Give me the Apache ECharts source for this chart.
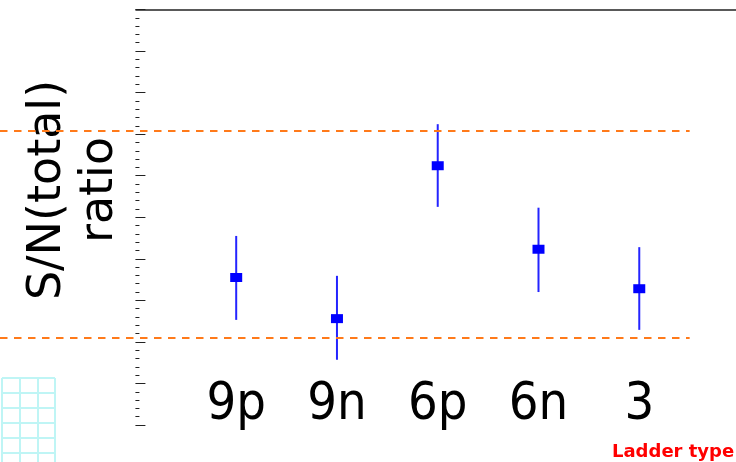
<!DOCTYPE html>
<html><head><meta charset="utf-8">
<script src="https://cdn.jsdelivr.net/npm/echarts@6/dist/echarts.min.js"></script>
<style>html,body{margin:0;padding:0;background:#fff}#c{width:736px;height:462px}</style>
</head><body><div id="c"></div>
<script>
// ---- data ----
const categories = ['9p', '9n', '6p', '6n', '3'];
const positions = [1, 2, 3, 4, 5];
const ratios = [0.355, 0.256, 0.624, 0.423, 0.328];
const errUp = [0.100, 0.103, 0.100, 0.100, 0.100];
const errDown = [0.102, 0.099, 0.099, 0.103, 0.099];
const refLines = [0.708, 0.210];
const refLineEnd = 5.5;
const xMin = -1.344, xMax = 5.96;
const yMin = 0, yMax = 1, yStep = 0.1;
const yTitle = 'S/N(total)\nratio';

const chart = echarts.init(document.getElementById('c'), null, {renderer: 'canvas'});

const errData = positions.map((x, i) => [x, ratios[i] - errDown[i], ratios[i] + errUp[i]]);
const ptData = positions.map((x, i) => [x, ratios[i]]);

const refMarks = refLines.map(v => [{coord: [xMin, v]}, {coord: [refLineEnd, v]}]);
refMarks.push([{coord: [0, yMax], lineStyle: {type: 'solid', color: '#222', width: 1.5}}, {coord: [xMax, yMax]}]);

chart.setOption({
  animation: false,
  backgroundColor: '#ffffff',
  title: {
    text: 'Ladder type', left: 612, top: 443, padding: 0,
    textStyle: {color: '#ff0000', fontSize: 18, fontWeight: 'bold', fontFamily: 'DejaVu Sans'}
  },
  graphic: [{
    type: 'text', x: 74, y: 190, rotation: Math.PI / 2, silent: true,
    style: {
      text: yTitle, fill: '#000', font: '46px "DejaVu Sans"',
      lineHeight: 52, align: 'center', verticalAlign: 'middle'
    }
  }],
  grid: [
    {left: 0, right: 0, top: 9.5, bottom: 37, outerBoundsMode: 'none', containLabel: false},
    {left: 2, top: 378, width: 53, height: 90, outerBoundsMode: 'none', containLabel: false}
  ],
  xAxis: [
    {
      type: 'value', gridIndex: 0, min: xMin, max: xMax,
      axisLine: {show: false}, axisTick: {show: false}, splitLine: {show: false},
      axisLabel: {
        customValues: positions,
        formatter: v => categories[positions.indexOf(v)],
        margin: -46, fontSize: 52, color: '#000',
        fontFamily: "'Liberation Sans Narrow', 'DejaVu Sans Condensed', sans-serif"
      }
    },
    {
      type: 'value', gridIndex: 1, min: 0, max: 3, interval: 1,
      axisLine: {show: false}, axisTick: {show: false}, axisLabel: {show: false},
      splitLine: {show: true, lineStyle: {color: '#bff5f5', width: 2}}
    }
  ],
  yAxis: [
    {
      type: 'value', gridIndex: 0, min: yMin, max: yMax, interval: yStep,
      axisLine: {show: false, onZero: true},
      axisTick: {show: true, inside: true, length: 10, lineStyle: {color: '#222', width: 1}},
      minorTick: {show: true, splitNumber: 5, length: 4, lineStyle: {color: '#222', width: 1}},
      axisLabel: {show: false}, splitLine: {show: false}
    },
    {
      type: 'value', gridIndex: 1, min: 0, max: 6, interval: 1,
      axisLine: {show: false}, axisTick: {show: false}, axisLabel: {show: false},
      splitLine: {show: true, lineStyle: {color: '#bff5f5', width: 2}}
    }
  ],
  series: [
    {
      type: 'custom', xAxisIndex: 0, yAxisIndex: 0, data: errData, silent: true, z: 2,
      encode: {x: 0, y: [1, 2]},
      renderItem: (params, api) => {
        const lo = api.coord([api.value(0), api.value(1)]);
        const hi = api.coord([api.value(0), api.value(2)]);
        return {type: 'line', shape: {x1: lo[0], y1: lo[1], x2: hi[0], y2: hi[1]},
                style: {stroke: '#2424ff', lineWidth: 2}};
      }
    },
    {
      type: 'scatter', xAxisIndex: 0, yAxisIndex: 0, data: ptData, z: 3,
      symbol: 'rect', symbolSize: [12, 9], itemStyle: {color: '#0000ff', opacity: 1},
      markLine: {
        silent: true, symbol: 'none', label: {show: false}, animation: false,
        lineStyle: {type: [7.5, 6.5], color: '#ff7a1a', width: 2},
        emphasis: {disabled: true},
        data: refMarks
      }
    }
  ]
});
</script>
</body></html>
